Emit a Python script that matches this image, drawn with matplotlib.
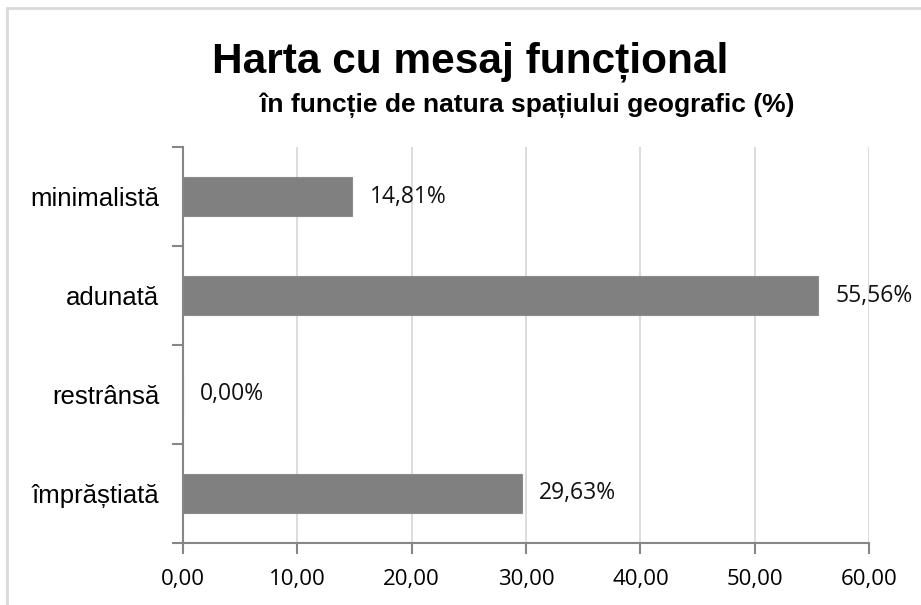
import matplotlib.pyplot as plt
from matplotlib.patches import Rectangle

# Date
categorii = ['împrăștiată', 'restrânsă', 'adunată', 'minimalistă']
procente = [29.63, 0.00, 55.56, 14.81]
repere_x = [0, 10, 20, 30, 40, 50, 60]

fig = plt.figure(figsize=(9.21, 6.05), dpi=100)
ax = fig.add_axes([0.1987, 0.1025, 0.745, 0.6545])

# chenarul graficului
fig.patches.append(Rectangle((0.0071, -0.05), 1.2, 1.036, transform=fig.transFigure,
                             fill=False, edgecolor='#d9d9d9', linewidth=2))

y = range(len(categorii))
ax.barh(y, procente, height=0.39, color='#808080', edgecolor='#8c8c8c', linewidth=0.8, zorder=3)

for yi, v in zip(y, procente):
    ax.text(v + 1.5, yi, f'{v:.2f}%'.replace('.', ','), va='center', ha='left',
            fontsize=16.5, family='Open Sans', color='#111111')

ax.set_xlim(0, 60)
ax.set_ylim(-0.5, len(categorii) - 0.5)
ax.set_xticks(repere_x)
ax.set_xticklabels([f'{v:.2f}'.replace('.', ',') for v in repere_x],
                   fontsize=16, family='Open Sans')
ax.set_yticks(list(y))
ax.set_yticklabels(categorii, fontsize=18.5, family='Liberation Sans')
ax.set_yticks([i - 0.5 for i in range(len(categorii) + 1)], minor=True)

ax.tick_params(axis='y', which='major', length=0, pad=17)
ax.tick_params(axis='y', which='minor', length=8, width=1.5, color='#868686')
ax.tick_params(axis='x', length=8, width=1.5, color='#868686', pad=11)

ax.grid(axis='x', color='#d9d9d9', linewidth=1.3, zorder=0)
for s in ['top', 'right']:
    ax.spines[s].set_visible(False)
for s in ['left', 'bottom']:
    ax.spines[s].set_color('#868686')
    ax.spines[s].set_linewidth(1.5)
    ax.spines[s].set_zorder(4)

fig.text(0.511, 0.880, 'Harta cu mesaj funcțional', ha='center', va='baseline',
         fontsize=30.5, fontweight='bold', family='Liberation Sans')
fig.text(0.573, 0.815, 'în funcție de natura spațiului geografic (%)', ha='center',
         va='baseline', fontsize=19, fontweight='bold', family='Liberation Sans')

fig.savefig('out.png', dpi=100)
